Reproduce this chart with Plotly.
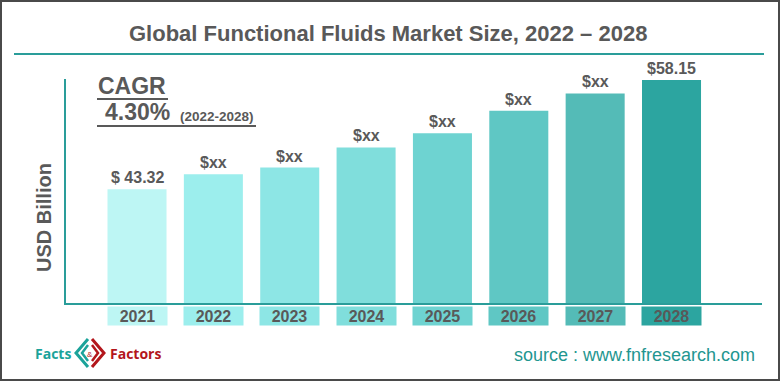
import plotly.graph_objects as go

# ---- data ----
years = ['2021', '2022', '2023', '2024', '2025', '2026', '2027', '2028']
values = [43.32, 45.36, 46.27, 48.99, 50.94, 53.97, 56.34, 58.15]
value_labels = ['$ 43.32', '$xx', '$xx', '$xx', '$xx', '$xx', '$xx', '$58.15']
bar_colors = ['#bdf6f4', '#9ceeed', '#8de6e5', '#80dedc', '#6ed3d1', '#5fc7c4', '#54bbb7', '#2ca5a0']

title_text = 'Global Functional Fluids Market Size, 2022 – 2028'
cagr_value = '4.30%'
cagr_period = '(2022-2028)'
y_title = 'USD Billion'
source_text = 'source : www.fnfresearch.com'

# ---- layout geometry helpers (pixel -> paper) ----
W, H = 780, 381
ML, MR, MT, MB = 66, 18, 79, 78
PW, PH = W - ML - MR, H - MT - MB


def px(x):
    return (x - ML) / PW


def py(y):
    return (H - MB - y) / PH


FONT = 'Arial, Liberation Sans, sans-serif'
GRAY = '#595959'
TEAL = '#2a9d9a'

fig = go.Figure()
fig.add_trace(go.Bar(
    x=years, y=values, marker=dict(color=bar_colors, line=dict(width=0)),
    width=0.773, hoverinfo='skip', showlegend=False,
))

annotations = []
# value labels (category axis positions are category indices)
for i, (v, lab) in enumerate(zip(values, value_labels)):
    annotations.append(dict(x=i, y=v, xref='x', yref='y', text=f'<b>{lab}</b>',
                            showarrow=False, yanchor='bottom', yshift=1,
                            font=dict(family=FONT, size=16, color=GRAY)))
# year label boxes
for i, (yr, c) in enumerate(zip(years, bar_colors)):
    annotations.append(dict(x=i, y=py(316), xref='x', yref='paper', text=f'<b>{yr}</b>',
                            showarrow=False, yanchor='middle', width=59, height=18,
                            borderpad=0, bgcolor=c,
                            font=dict(family=FONT, size=16, color=GRAY)))
# title
annotations.append(dict(x=px(388), y=py(33), xref='paper', yref='paper', text=f'<b>{title_text}</b>',
                        showarrow=False, xanchor='center', yanchor='middle',
                        font=dict(family=FONT, size=22, color=GRAY)))
# CAGR block
annotations.append(dict(x=px(96), y=py(86), xref='paper', yref='paper', text='<b>CAGR</b>',
                        showarrow=False, xanchor='left', yanchor='middle',
                        font=dict(family=FONT, size=23, color=GRAY)))
annotations.append(dict(x=px(103), y=py(112), xref='paper', yref='paper', text=f'<b>{cagr_value}</b>',
                        showarrow=False, xanchor='left', yanchor='middle',
                        font=dict(family=FONT, size=23, color=GRAY)))
annotations.append(dict(x=px(178), y=py(116), xref='paper', yref='paper', text=f'<b>{cagr_period}</b>',
                        showarrow=False, xanchor='left', yanchor='middle',
                        font=dict(family=FONT, size=13.5, color=GRAY)))
# y title
annotations.append(dict(x=px(44), y=py(218), xref='paper', yref='paper', text=f'<b>{y_title}</b>',
                        showarrow=False, textangle=-90, xanchor='center', yanchor='middle',
                        font=dict(family=FONT, size=20, color=GRAY)))
# source
annotations.append(dict(x=px(757), y=py(355), xref='paper', yref='paper', text=source_text,
                        showarrow=False, xanchor='right', yanchor='middle',
                        font=dict(family=FONT, size=18, color='#1f9690')))
# logo texts
annotations.append(dict(x=px(73), y=py(353), xref='paper', yref='paper', text='<b>Facts</b>',
                        showarrow=False, xanchor='right', yanchor='middle',
                        font=dict(family='Open Sans, sans-serif', size=14, color='#1ba39a')))
annotations.append(dict(x=px(108), y=py(353), xref='paper', yref='paper', text='<b>Factors</b>',
                        showarrow=False, xanchor='left', yanchor='middle',
                        font=dict(family='Open Sans, sans-serif', size=14, color='#b3161c')))
annotations.append(dict(x=px(90), y=py(354), xref='paper', yref='paper', text='&',
                        showarrow=False, xanchor='center', yanchor='middle',
                        font=dict(family=FONT, size=8, color='#b3161c')))

shapes = []
# outer border
shapes.append(dict(type='rect', xref='paper', yref='paper', x0=px(1), x1=px(779), y0=py(1), y1=py(380),
                   line=dict(color='#4a4a4a', width=2)))
# title rule
shapes.append(dict(type='line', xref='paper', yref='paper', x0=px(14), x1=px(764), y0=py(54), y1=py(54),
                   line=dict(color=TEAL, width=2)))
# CAGR underlines
shapes.append(dict(type='line', xref='paper', yref='paper', x0=px(97), x1=px(168), y0=py(99), y1=py(99),
                   line=dict(color=GRAY, width=2)))
shapes.append(dict(type='line', xref='paper', yref='paper', x0=px(97), x1=px(256), y0=py(126), y1=py(126),
                   line=dict(color=GRAY, width=2)))


def path(pts):
    return 'M ' + ' L '.join(f'{px(a)},{py(b)}' for a, b in pts)


# logo icon: nested chevrons
shapes.append(dict(type='path', xref='paper', yref='paper', path=path([(88, 339), (76, 353), (88, 367)]),
                   line=dict(color='#1ba39a', width=3)))
shapes.append(dict(type='path', xref='paper', yref='paper', path=path([(88, 345), (82, 353), (88, 361)]),
                   line=dict(color='#1ba39a', width=2.5)))
shapes.append(dict(type='path', xref='paper', yref='paper', path=path([(92, 339), (104, 353), (92, 367)]),
                   line=dict(color='#b3161c', width=3)))
shapes.append(dict(type='path', xref='paper', yref='paper', path=path([(92, 345), (98, 353), (92, 361)]),
                   line=dict(color='#b3161c', width=2.5)))

fig.update_layout(
    width=W, height=H,
    margin=dict(l=ML, r=MR, t=MT, b=MB, pad=0),
    paper_bgcolor='white', plot_bgcolor='white',
    showlegend=False,
    annotations=annotations, shapes=shapes,
    xaxis=dict(type='category', range=[-0.93, 8.185], showticklabels=False, ticks='',
               showgrid=False, zeroline=False, showline=True, linecolor=TEAL, linewidth=2,
               fixedrange=True),
    yaxis=dict(range=[27.85, 58.3], showticklabels=False, ticks='', showgrid=False,
               zeroline=False, showline=True, linecolor=TEAL, linewidth=2, fixedrange=True),
)

fig.write_html('out.html', config={'displayModeBar': False},
               post_script="document.body.style.margin='0';document.body.style.overflow='hidden';")
